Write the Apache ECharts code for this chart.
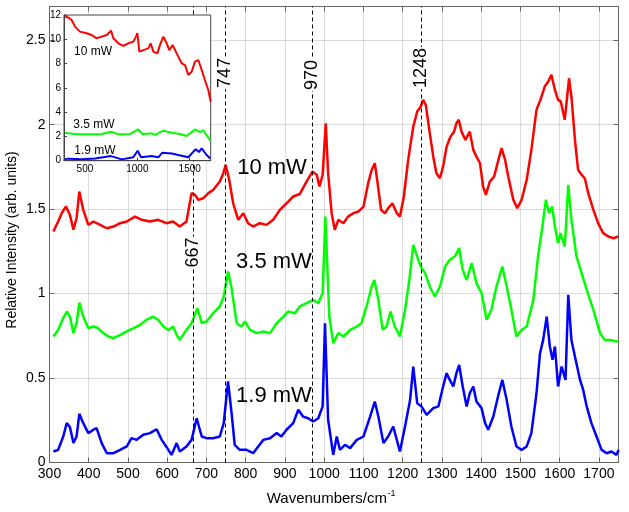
<!DOCTYPE html>
<html><head><meta charset="utf-8">
<script src="https://cdn.jsdelivr.net/npm/echarts@6/dist/echarts.min.js"></script>
<style>html,body{margin:0;padding:0;background:#fff}#c{width:629px;height:512px}</style>
</head><body><div id="c"></div>
<script>
const FONT = '"Liberation Sans", Arial, Helvetica, sans-serif';

// ---- main spectra (baseline-corrected, offset) ----
const wn10 = [310,322,331,342,352,361,369,376,386,399,412,429,446,463,480,497,518,535,556,577,598,615,632,649,662,671,679,692,705,717,734,743,749,758,768,781,794,806,819,836,853,870,887,904,921,938,955,970,981,988,996,1004,1010,1019,1027,1036,1049,1061,1074,1087,1100,1112,1121,1129,1135,1145,1155,1163,1174,1185,1193,1203,1214,1227,1237,1246,1252,1259,1269,1278,1286,1295,1303,1312,1322,1331,1337,1343,1350,1360,1371,1380,1388,1397,1405,1412,1422,1433,1444,1452,1461,1469,1482,1492,1503,1516,1528,1541,1551,1562,1571,1579,1588,1596,1603,1613,1624,1630,1639,1647,1656,1664,1673,1686,1698,1711,1724,1737,1749];
const int10 = [1.368,1.427,1.476,1.516,1.466,1.378,1.447,1.604,1.496,1.407,1.427,1.407,1.387,1.397,1.417,1.427,1.456,1.437,1.427,1.437,1.417,1.427,1.397,1.427,1.595,1.585,1.555,1.565,1.595,1.614,1.664,1.713,1.762,1.674,1.535,1.437,1.476,1.417,1.397,1.417,1.407,1.437,1.496,1.535,1.575,1.59,1.663,1.723,1.703,1.634,1.703,2.009,1.713,1.476,1.377,1.437,1.417,1.456,1.476,1.486,1.515,1.654,1.732,1.772,1.673,1.496,1.476,1.506,1.535,1.476,1.456,1.575,1.792,1.989,2.078,2.107,2.147,2.117,1.95,1.811,1.713,1.683,1.752,1.871,1.93,1.959,2.009,2.029,1.959,1.91,1.959,1.851,1.811,1.772,1.634,1.585,1.663,1.693,1.792,1.861,1.792,1.693,1.555,1.506,1.555,1.673,1.851,2.088,2.147,2.226,2.256,2.295,2.206,2.147,2.137,2.029,2.275,2.167,1.91,1.733,1.703,1.683,1.594,1.496,1.417,1.358,1.338,1.328,1.338];

const wn35 = [310,322,335,344,352,361,369,376,386,399,412,424,437,450,463,480,497,514,531,547,564,577,590,603,615,624,632,649,662,677,688,700,717,734,744,755,764,777,789,798,811,828,845,862,879,896,908,925,938,955,972,985,996,1003,1013,1023,1036,1049,1066,1083,1095,1108,1121,1128,1138,1149,1159,1169,1180,1193,1206,1217,1227,1237,1246,1257,1269,1282,1295,1308,1320,1333,1344,1353,1363,1376,1388,1401,1414,1426,1439,1454,1465,1477,1490,1503,1516,1533,1545,1556,1565,1573,1581,1588,1596,1602,1613,1622,1630,1643,1656,1669,1686,1703,1715,1728,1745,1750];
const int35 = [0.746,0.785,0.855,0.894,0.864,0.766,0.825,0.947,0.864,0.795,0.805,0.795,0.766,0.746,0.736,0.756,0.776,0.795,0.815,0.845,0.864,0.845,0.805,0.785,0.805,0.756,0.726,0.785,0.825,0.914,0.825,0.835,0.884,0.924,0.983,1.131,1.032,0.825,0.805,0.835,0.785,0.766,0.776,0.766,0.825,0.864,0.894,0.884,0.924,0.943,0.963,0.943,1.003,1.456,0.864,0.707,0.766,0.746,0.785,0.805,0.825,0.924,1.042,1.081,0.963,0.785,0.805,0.894,0.805,0.746,0.904,1.081,1.289,1.22,1.16,1.121,1.042,0.983,1.042,1.16,1.2,1.22,1.269,1.141,1.081,1.18,1.062,1.003,0.845,0.904,1.042,1.16,1.042,0.904,0.746,0.785,0.805,0.963,1.22,1.397,1.555,1.476,1.516,1.397,1.299,1.358,1.279,1.644,1.437,1.22,1.121,1.022,0.904,0.766,0.726,0.726,0.716,0.72];

const wn19 = [310,322,335,344,352,361,369,376,386,399,412,420,433,446,463,480,497,509,522,539,556,573,586,603,611,624,632,649,662,675,688,700,717,734,744,755,764,772,785,802,819,832,845,862,879,891,904,921,934,946,959,972,985,996,1002,1010,1015,1023,1032,1040,1053,1066,1083,1100,1117,1129,1138,1151,1163,1176,1185,1193,1206,1219,1227,1237,1248,1261,1278,1291,1303,1312,1320,1329,1337,1344,1353,1363,1371,1380,1388,1401,1410,1418,1431,1443,1454,1465,1477,1490,1503,1516,1528,1541,1550,1558,1567,1575,1582,1588,1596,1605,1615,1622,1630,1639,1652,1660,1669,1681,1694,1707,1720,1732,1745,1750];
const int19 = [0.065,0.075,0.154,0.233,0.21,0.115,0.154,0.288,0.233,0.174,0.194,0.203,0.115,0.055,0.055,0.075,0.095,0.144,0.134,0.164,0.174,0.197,0.134,0.075,0.045,0.115,0.065,0.095,0.134,0.262,0.154,0.144,0.144,0.154,0.233,0.48,0.292,0.105,0.075,0.075,0.055,0.095,0.134,0.144,0.174,0.154,0.194,0.233,0.312,0.272,0.262,0.243,0.262,0.332,0.825,0.253,0.174,0.045,0.154,0.075,0.105,0.085,0.134,0.154,0.272,0.361,0.272,0.115,0.154,0.213,0.134,0.065,0.213,0.371,0.568,0.351,0.332,0.282,0.322,0.332,0.45,0.529,0.489,0.45,0.529,0.578,0.45,0.332,0.41,0.45,0.361,0.322,0.233,0.194,0.272,0.391,0.489,0.371,0.213,0.095,0.075,0.095,0.174,0.41,0.647,0.726,0.864,0.687,0.608,0.687,0.45,0.568,0.489,0.993,0.726,0.628,0.489,0.43,0.332,0.233,0.154,0.075,0.055,0.065,0.045,0.075];

// ---- inset: raw spectra ----
const insWn10 = [310,338,373,405,452,516,564,612,660,708,749,771,819,867,914,962,987,1000,1019,1057,1105,1127,1153,1191,1216,1248,1280,1305,1337,1375,1423,1455,1486,1518,1550,1582,1614,1645,1677,1700];
const insInt10 = [11.86,11.8,11.59,11.04,10.63,10.5,10.35,10.08,10.22,10.35,10.71,10.08,9.67,9.45,9.67,9.81,10.22,10.5,8.98,9.11,9.25,9.67,8.98,8.84,9.53,10.22,9.67,9.11,9.53,8.84,8.02,7.88,7.06,7.33,8.16,8.29,7.47,6.65,5.82,4.86];
const insWn35 = [300,310,405,532,659,749,818,930,1009,1047,1137,1168,1248,1328,1407,1471,1550,1598,1629,1671,1696];
const insInt35 = [2.31,2.25,2.2,2.17,2.2,2.39,2.17,2.2,2.58,2.2,2.25,2.12,2.47,2.31,2.2,2.04,2.58,2.36,2.52,1.98,1.65];
const insWn19 = [300,341,469,596,749,851,961,1003,1035,1137,1200,1238,1328,1391,1486,1557,1588,1614,1661,1696];
const insInt19 = [0.11,0.17,0.11,0.19,0.38,0.11,0.28,0.82,0.28,0.38,0.28,0.66,0.6,0.47,0.28,0.94,0.71,1.02,0.47,0.19];

// ---- ticks / annotations ----
const xTicks = [300,400,500,600,700,800,900,1000,1100,1200,1300,1400,1500,1600,1700];
const yTicks = [0,0.5,1,1.5,2,2.5];
const insetXTicks = [500,1000,1500];
const insetYTicks = [0,2,4,6,8,10,12];
const peakLines = [667,747,970,1248];
const peakLabelY = [1.243,2.307,2.295,2.336];
const seriesNames = ['10 mW','3.5 mW','1.9 mW'];
const seriesColors = ['#ff0000','#00ff00','#0000ff'];
const seriesLabelPos = [[867,1.745],[872,1.187],[872,0.394]];
const insetLabelPos = [[577,8.95],[586,2.94],[596,0.80]];

function zip(a,b){return a.map((x,i)=>[x,b[i]]);}
const plain = v => String(v);

const chart = echarts.init(document.getElementById('c'), null, {renderer:'canvas'});
const axisCol = '#666';
const mainX = (pos, showLabel) => ({
  gridIndex:0, type:'value', min:300, max:1750, interval:100, position:pos,
  axisLine:{show:true, onZero:false, lineStyle:{color:axisCol, width:1}},
  axisTick:{show:true, inside:true, length:5, customValues:xTicks, lineStyle:{color:axisCol}},
  axisLabel:{show:showLabel, customValues:xTicks, formatter:plain, color:'#000', fontSize:14, fontFamily:FONT, margin:5},
  splitLine:{show:showLabel, lineStyle:{color:'#b8b8b8', type:'dotted', width:1}}
});
const mainY = (pos, showLabel) => ({
  gridIndex:0, type:'value', min:0, max:2.7, interval:0.5, position:pos,
  axisLine:{show:true, onZero:false, lineStyle:{color:axisCol, width:1}},
  axisTick:{show:true, inside:true, length:5, customValues:yTicks, lineStyle:{color:axisCol}},
  axisLabel:{show:showLabel, customValues:yTicks, formatter:plain, color:'#000', fontSize:14, fontFamily:FONT, margin:4},
  splitLine:{show:showLabel, lineStyle:{color:'#b8b8b8', type:'dotted', width:1}}
});

const mainData = [zip(wn10,int10), zip(wn35,int35), zip(wn19,int19)];
const insData = [zip(insWn10,insInt10), zip(insWn35,insInt35), zip(insWn19,insInt19)];

const series = [];
mainData.forEach((d,i)=>{
  const s = {type:'line', name:seriesNames[i], xAxisIndex:0, yAxisIndex:0, data:d, showSymbol:false, symbol:'none',
    lineStyle:{color:seriesColors[i], width:2.5}, itemStyle:{color:seriesColors[i]}, z:2, animation:false};
  if (i === 2) {
    s.markLine = {silent:true, symbol:'none', animation:false, label:{show:false},
      lineStyle:{color:'#000', width:1, type:[4,3]},
      data: peakLines.map(v=>({xAxis:v}))};
  }
  series.push(s);
});
insData.forEach((d,i)=>{
  series.push({type:'line', name:'inset '+seriesNames[i], xAxisIndex:2, yAxisIndex:2, data:d, showSymbol:false, symbol:'none',
    lineStyle:{color:seriesColors[i], width:2}, z:11, animation:false});
});

chart.setOption({
  animation:false,
  backgroundColor:'#fff',
  textStyle:{fontFamily:FONT},
  grid:[
    {left:49.5, top:6.5, width:569, height:456, show:false},
    {left:64, top:15, width:146.7, height:145.7, show:true, backgroundColor:'#fff', borderColor:'#444', borderWidth:1, z:10}
  ],
  xAxis:[
    mainX('bottom', true),
    mainX('top', false),
    {gridIndex:1, type:'value', min:300, max:1700, z:12,
      axisLine:{show:true, onZero:false, lineStyle:{color:'#444'}},
      axisTick:{show:true, inside:true, length:3, customValues:insetXTicks, lineStyle:{color:'#444'}},
      axisLabel:{customValues:insetXTicks, formatter:plain, color:'#000', fontSize:10, fontFamily:FONT, margin:4},
      splitLine:{show:false}}
  ],
  yAxis:[
    mainY('left', true),
    mainY('right', false),
    {gridIndex:1, type:'value', min:0, max:12, interval:2, z:12,
      axisLine:{show:true, onZero:false, lineStyle:{color:'#444'}},
      axisTick:{show:true, inside:true, length:3, customValues:insetYTicks, lineStyle:{color:'#444'}},
      axisLabel:{customValues:insetYTicks, formatter:plain, color:'#000', fontSize:10, fontFamily:FONT, margin:3},
      splitLine:{show:false}}
  ],
  series: series
});

// annotations anchored to data coordinates
const graphics = [];
peakLines.forEach((w,i)=>{
  const p = chart.convertToPixel({xAxisIndex:0, yAxisIndex:0}, [w, peakLabelY[i]]);
  graphics.push({type:'text', x:p[0], y:p[1], rotation:Math.PI/2, z:20,
    style:{text:String(w), fontSize:18, fontFamily:FONT, fill:'#000', align:'center', verticalAlign:'middle', backgroundColor:'#fff', padding:[0,1]}});
});
seriesNames.forEach((n,i)=>{
  const p = chart.convertToPixel({xAxisIndex:0, yAxisIndex:0}, seriesLabelPos[i]);
  graphics.push({type:'text', x:p[0], y:p[1], z:20,
    style:{text:n, fontSize:22, fontFamily:FONT, fill:'#000', align:'center', verticalAlign:'middle'}});
  const q = chart.convertToPixel({xAxisIndex:2, yAxisIndex:2}, insetLabelPos[i]);
  graphics.push({type:'text', x:q[0], y:q[1], z:20,
    style:{text:n, fontSize:12, fontFamily:FONT, fill:'#000', align:'center', verticalAlign:'middle'}});
});
// axis titles
graphics.push({type:'text', x:12.5, y:240, rotation:Math.PI/2, z:20,
  style:{text:'Relative Intensity (arb. units)', fontSize:14, fontFamily:FONT, fill:'#000', align:'center', verticalAlign:'middle'}});
graphics.push({type:'text', x:387, y:499, z:20,
  style:{text:'Wavenumbers/cm', fontSize:15, fontFamily:FONT, fill:'#000', align:'right', verticalAlign:'middle'}});
graphics.push({type:'text', x:387.5, y:494, z:20,
  style:{text:'-1', fontSize:9, fontFamily:FONT, fill:'#000', align:'left', verticalAlign:'middle'}});
chart.setOption({graphic:graphics});
</script>
</body></html>
